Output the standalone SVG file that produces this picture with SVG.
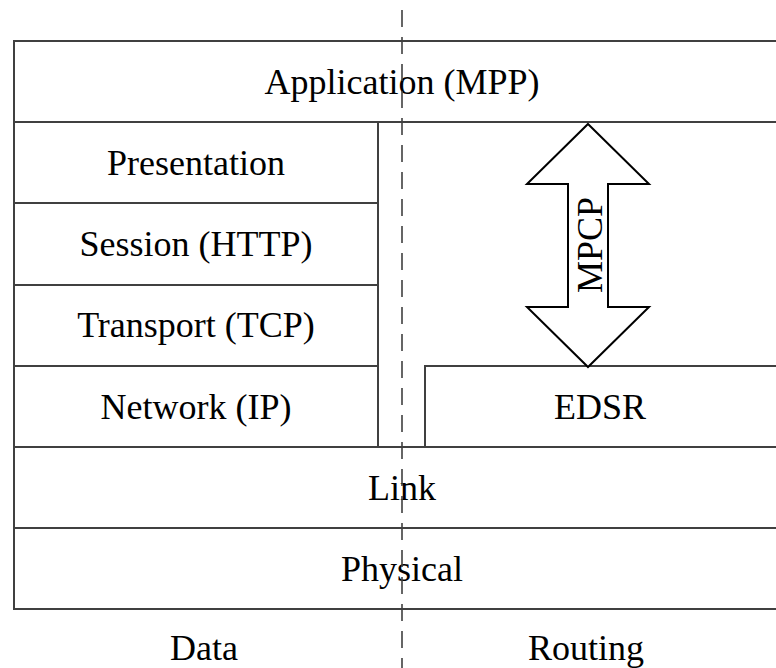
<svg xmlns="http://www.w3.org/2000/svg" width="776" height="668" viewBox="0 0 776 668">
<style>
.box{fill:none;stroke:#404040;stroke-width:2}
.t{font-family:"Liberation Serif","Times New Roman",serif;font-size:36px;fill:#000;text-anchor:middle;dominant-baseline:central}
.dash{stroke:#404040;stroke-width:1.6;stroke-dasharray:17 10;fill:none}
</style>
<rect width="776" height="668" fill="#fff"/>
<g id="application"><rect class="box" x="14" y="41" width="800" height="81"/><text class="t" x="402" y="82">Application (MPP)</text></g>
<g id="presentation"><rect class="box" x="14" y="122" width="364" height="81"/><text class="t" x="196" y="163">Presentation</text></g>
<g id="session"><rect class="box" x="14" y="203" width="364" height="82"/><text class="t" x="196" y="244">Session (HTTP)</text></g>
<g id="transport"><rect class="box" x="14" y="285" width="364" height="81"/><text class="t" x="196" y="325">Transport (TCP)</text></g>
<g id="network"><rect class="box" x="14" y="366" width="364" height="81"/><text class="t" x="196" y="407">Network (IP)</text></g>
<g id="routing-area"><rect class="box" x="378" y="122" width="436" height="325"/></g>
<g id="edsr"><rect class="box" x="425" y="366" width="389" height="81"/><text class="t" x="600" y="407">EDSR</text></g>
<g id="link"><rect class="box" x="14" y="447" width="800" height="81"/><text class="t" x="402" y="488">Link</text></g>
<g id="physical"><rect class="box" x="14" y="528" width="800" height="81"/><text class="t" x="402" y="569">Physical</text></g>
<g id="mpcp">
<polygon points="588,124 649,184 608,184 608,307 649,307 588,367 527,307 568,307 568,184 527,184" fill="#fff" stroke="#000" stroke-width="2" stroke-linejoin="miter"/>
<text class="t" transform="translate(590,245) rotate(-90)" x="0" y="0">MPCP</text>
</g>
<g id="labels"><text class="t" x="204" y="648">Data</text><text class="t" x="586" y="648">Routing</text></g>
<g id="connectors"><line class="dash" x1="402" y1="10" x2="402" y2="668"/></g>
</svg>
